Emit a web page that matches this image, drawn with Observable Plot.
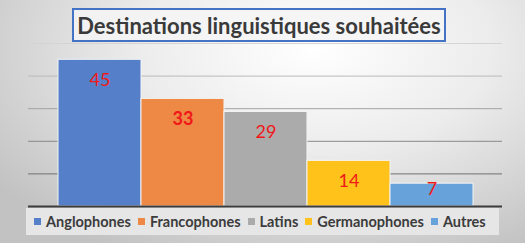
<!DOCTYPE html>
<html><head><meta charset="utf-8">
<script src="https://cdn.jsdelivr.net/npm/d3@7"></script>
<script src="https://cdn.jsdelivr.net/npm/@observablehq/plot@0.6"></script>
<style>
html,body{margin:0;padding:0;background:#fff;}
#chart{position:relative;width:525px;height:243px;overflow:hidden;
  background: radial-gradient(ellipse 75% 95% at 60% 20%, #ffffff 0%, #ececec 45%, #c2c2c2 100%);
  font-family: Lato, "Open Sans", sans-serif;}
#plot{position:absolute;left:0;top:0;}
#title{position:absolute;left:72px;top:8px;width:370px;height:30px;border:2.5px solid #4472c4;
  background:rgba(245,245,245,0.85);color:#3a3a3a;font-weight:bold;font-size:22px;
  display:flex;align-items:center;justify-content:center;box-sizing:content-box;}
#legend{position:absolute;left:26px;top:208px;width:473px;height:27px;background:#e6e6e6;
  display:flex;align-items:center;padding-left:8px;box-sizing:border-box;}
.item{display:flex;align-items:center;margin-right:7px;font-weight:bold;font-size:14.5px;color:#3c3c3c;}
.sw{width:7px;height:7px;margin-right:5px;}
</style>
</head><body>
<div id="chart">
  <div id="plot"></div>
  <div id="title"></div>
  <div id="legend"></div>
</div>
<script>
const titleText = "Destinations linguistiques souhaitées";
const categories = ["Anglophones", "Francophones", "Latins", "Germanophones", "Autres"];
const values = [45, 33, 29, 14, 7];
const colors = ["#5580c9", "#ee8845", "#ababab", "#ffc21a", "#68a2da"];
const gridValues = [10, 20, 30, 40, 50];
const boldCategory = "Francophones";

const data = categories.map((c, i) => ({category: c, value: values[i]}));
const colorOf = Object.fromEntries(categories.map((c, i) => [c, colors[i]]));
const labelColor = "#f01818";

const plot = Plot.plot({
  width: 525,
  height: 243,
  marginTop: 43,
  marginBottom: 37,
  marginLeft: 28,
  marginRight: 23,
  style: {background: "transparent", fontFamily: "Lato, sans-serif"},
  x: {domain: categories, paddingInner: 0, paddingOuter: 0.35, axis: null},
  y: {domain: [0, 50], axis: null},
  marks: [
    Plot.ruleY(gridValues, {stroke: d => d3.interpolateRgb("#d4d4d4", "#707070")((50 - d) / 40), strokeWidth: 1}),
    Plot.barY(data, {x: "category", y: "value", fill: d => colorOf[d.category], stroke: "#f4f4f4", strokeWidth: 1}),
    Plot.ruleY([0], {stroke: "#3c3c3c", strokeWidth: 2}),
    Plot.text(data, {filter: d => d.value >= 10 && d.category !== boldCategory, x: "category", y: "value", text: d => String(d.value), dy: 20, fill: labelColor, fontSize: 18}),
    Plot.text(data, {filter: d => d.category === boldCategory, x: "category", y: "value", text: d => String(d.value), dy: 20, fill: labelColor, fontSize: 18, fontWeight: "bold"}),
    Plot.text(data, {filter: d => d.value < 10, x: "category", y: "value", text: d => String(d.value), dy: 6, fill: labelColor, fontSize: 18})
  ]
});
document.getElementById("plot").appendChild(plot);
document.getElementById("title").textContent = titleText;

const legend = document.getElementById("legend");
categories.forEach((c, i) => {
  const item = document.createElement("div");
  item.className = "item";
  const sw = document.createElement("span");
  sw.className = "sw";
  sw.style.background = colors[i];
  const t = document.createElement("span");
  t.textContent = c;
  item.appendChild(sw);
  item.appendChild(t);
  legend.appendChild(item);
});
</script>
</body></html>
